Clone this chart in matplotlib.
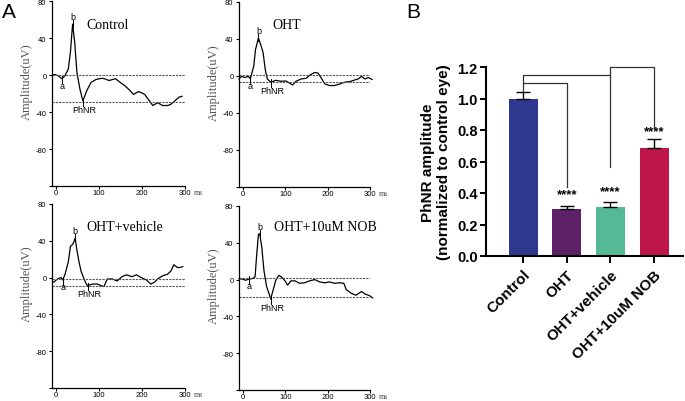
import matplotlib.pyplot as plt
import numpy as np

plt.rcParams['font.family'] = ['Liberation Sans', 'DejaVu Sans']

# ---- panel A: ERG traces (time in ms, amplitude in uV) ----
ctrl_t = [-8, -3, 5, 13, 20, 28, 33, 38, 43, 48, 55, 62, 71, 81, 92, 100, 108, 115, 123, 130, 138, 149, 161, 172,
          180, 191, 198, 206, 217, 225, 236, 248, 259, 266, 274, 286, 293]
ctrl_v = [0, 0.5, -1, -4, -1, 6.5, 25, 55, 35, 3, -15, -28, -17, -8, -5, -4, -3.6, -4.5, -6, -5, -4, -8, -12, -17,
          -21, -18, -19, -21, -28, -33, -30, -33, -33, -32, -29, -24, -23]

oht_t = [-10, -4, 4, 12, 17, 25, 29, 36, 41, 47, 52, 57, 65, 77, 89, 101, 109, 117, 125, 137, 149, 158, 169, 177,
         185, 193, 204, 216, 228, 240, 252, 264, 272, 280, 288, 296, 305]
oht_v = [-3.5, -0.7, -2, -0.7, -3.5, 10.6, 28, 40.7, 34, 25, 7, -3.5, -7, -5, -6, -5.7, -7.8, -10, -6, -3.5, -2.8,
         0.7, 3.5, 2.8, -2.8, -8.8, -10.6, -10.6, -9, -7, -6.4, -4.6, -3.5, -0.7, -3.5, -2, -4]

veh_t = [-6, 0, 5, 11, 15, 20, 28, 33, 38, 41, 44, 48, 53, 58, 64, 70, 73, 85, 96, 104, 111, 119, 130, 142, 153,
         164, 176, 187, 198, 210, 220, 229, 236, 248, 259, 267, 274, 282, 289, 295]
veh_v = [-5, -2.5, -1, 0, -2.5, 3, 17, 34, 36, 39, 43, 30, 17, 6.5, -0.7, -7, -8.7, -7, -7, -8.7, -9.8, -1.5, -1.5,
         -3.6, 1, 3, 1, 3, 0, -2.5, -7, -5, -1.5, 2, 3.6, 7, 14, 11, 11, 12]

nob_t = [-10, -2, 6, 13.5, 21, 28, 32, 36, 39, 44, 49, 55, 63, 65, 71, 77, 84, 91, 99, 105, 113, 123, 133, 145, 157,
         169, 181, 193, 204, 216, 228, 238, 244, 256, 267, 273, 280, 288, 300, 306]
nob_v = [1, 0.5, -0.7, 0.7, 1, 3, 27.6, 49, 50, 35, 10, -7, -18, -21, -11, -0.7, 4.6, 2.8, -1.4, -6, -1.4, -1.4, -4,
         -3.5, -1.4, 0, -2.5, -3.5, -2.5, -4, -3.5, -4, -11, -15, -17, -15, -13, -15.6, -17.7, -20]

trace_names = ['Control', 'OHT', 'OHT+vehicle', 'OHT+10uM NOB']
baselines = [0, 1, -1, 1.5]
phnr_levels = [-29, -7, -9, -19]
a_points = [(13, -4), (17, -3.5), (15, -2.5), (13.5, 0.7)]
b_points = [(38, 55), (36, 40.7), (44, 43), (39, 50)]
phnr_points = [(62, -28), (65, -7), (73, -8.7), (65, -21)]
name_pos = [(70, 55), (69, 55), (70, 56), (72, 58)]

# ---- panel B: normalized PhNR amplitude ----
groups = ['Control', 'OHT', 'OHT+vehicle', 'OHT+10uM NOB']
means = [1.0, 0.30, 0.31, 0.685]
sems = [0.04, 0.02, 0.035, 0.06]
bar_colors = ['#2F388F', '#5C2166', '#56B995', '#BE1648']
brackets = [(0, 1), (0, 2), (2, 3)]
bracket_y = [1.10, 1.15, 1.20]
bracket_end = [0.44, 0.565, 0.81]
star_y = [0.39, 0.41, 0.79]

W, H = 685, 402
fig = plt.figure(figsize=(W / 100, H / 100), dpi=100)


def px_axes(left, top, right, bottom):
    return fig.add_axes([left / W, 1 - bottom / H, (right - left) / W, (bottom - top) / H])


def erg_panel(ax, t, v, i):
    ax.plot(t, v, color='black', lw=0.9, clip_on=False)
    ax.plot([-10, 300], [baselines[i]] * 2, color='#555555', lw=0.8, dashes=(2, 1))
    ax.plot([-10, 300], [phnr_levels[i]] * 2, color='#555555', lw=0.8, dashes=(2, 1))
    ax.set_xlim(-10, 300)
    ax.set_ylim(-120, 80)
    ax.set_yticks([80, 40, 0, -40, -80, -120])
    ax.set_yticklabels(['80', '40', '0', '-40', '-80', ''])
    ax.set_xticks([0, 100, 200, 300])
    ax.tick_params(labelsize=5.5, length=2.5, width=0.8, pad=1.5)
    ax.tick_params(axis='x', length=2, pad=0.5)
    for s in ['top', 'right']:
        ax.spines[s].set_visible(False)
    for s in ['left', 'bottom']:
        ax.spines[s].set_linewidth(0.9)
    ax.patch.set_alpha(0)
    # a / b / PhNR cursors
    ax_, ay = a_points[i]
    ax.plot([ax_, ax_], [ay + 3, ay - 5], color='black', lw=0.7)
    ax.text(ax_, ay - 7, 'a', fontsize=6.5, ha='center', va='center')
    bx, by = b_points[i]
    ax.plot([bx, bx], [by - 3, by + 4], color='black', lw=0.7)
    ax.text(bx, by + 8, 'b', fontsize=6.5, ha='center', va='center')
    px, py = phnr_points[i]
    ax.plot([px, px], [py + 3, py - 5], color='black', lw=0.7)
    ax.text(px + 3, py - 9, 'PhNR', fontsize=6.5, ha='center', va='center')
    ax.text(name_pos[i][0], name_pos[i][1], trace_names[i], fontsize=10, family='Liberation Serif',
            ha='left', va='center')
    ax.text(-0.19, 0.57, 'Amplitude(uV)', transform=ax.transAxes, rotation=90, fontsize=9,
            family='Liberation Serif', color='#555555', ha='center', va='center')
    ax.text(1.065, -0.035, 'ms', transform=ax.transAxes, fontsize=5.5, family='Liberation Serif',
            ha='left', va='center', color='#444444')


ax1 = px_axes(52, 2, 185, 187)
ax2 = px_axes(239, 2.5, 370, 188)
ax3 = px_axes(52, 205, 185, 389)
ax4 = px_axes(239, 207, 370, 391)
erg_panel(ax1, ctrl_t, ctrl_v, 0)
erg_panel(ax2, oht_t, oht_v, 1)
erg_panel(ax3, veh_t, veh_v, 2)
erg_panel(ax4, nob_t, nob_v, 3)

# ---- panel B ----
axb = px_axes(486, 68, 683, 257)
x = np.arange(len(groups))
axb.bar(x, means, width=0.66, color=bar_colors, zorder=2)
axb.errorbar(x, means, yerr=[np.zeros(len(sems)), sems], fmt='none', ecolor='black', elinewidth=1,
             capsize=5, capthick=1, zorder=3)
axb.set_xlim(-0.85, 3.66)
axb.set_ylim(0, 1.2)
axb.set_yticks([0, 0.2, 0.4, 0.6, 0.8, 1.0, 1.2])
axb.set_yticklabels(['0.0', '0.2', '0.4', '0.6', '0.8', '1.0', '1.2'], fontweight='bold')
axb.set_xticks(x)
axb.set_xticklabels(groups, rotation=45, ha='right', rotation_mode='anchor', fontweight='bold', fontsize=11)
axb.tick_params(axis='y', labelsize=10.5, length=4, width=1.4, pad=2)
axb.tick_params(axis='x', length=5, width=1.4, pad=3)
for s in ['top', 'right']:
    axb.spines[s].set_visible(False)
for s in ['left', 'bottom']:
    axb.spines[s].set_linewidth(1.5)
axb.set_ylabel('PhNR amplitude\n(normalized to control eye)', fontsize=11, fontweight='bold', labelpad=4)

for (g0, g1), yb, ye in zip(brackets, bracket_y, bracket_end):
    axb.plot([g0, g0, g1, g1], [yb - 0.05, yb, yb, ye], color='#333333', lw=0.9, clip_on=False, zorder=4)
for g, ys in zip([1, 2, 3], star_y):
    axb.text(g, ys, '****', fontsize=9.5, fontweight='bold', ha='center', va='center')

fig.text(2 / W, 1 - 12 / H, 'A', fontsize=15, va='center', ha='left')
fig.text(406 / W, 1 - 12 / H, 'B', fontsize=15, va='center', ha='left')

fig.savefig('out.png', dpi=100)
